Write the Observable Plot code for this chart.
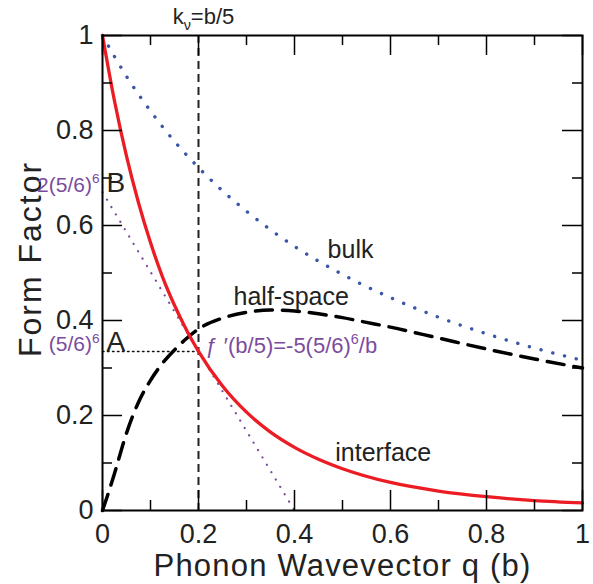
<!DOCTYPE html>
<html><head><meta charset="utf-8">
<script src="https://cdn.jsdelivr.net/npm/d3@7"></script>
<script src="https://cdn.jsdelivr.net/npm/@observablehq/plot@0.6"></script>
<style>
body{margin:0;background:#fff}
svg{font-family:"Liberation Sans",Arial,Helvetica,sans-serif}
</style>
</head><body><div id="chart"></div>
<script>
// ---- data ----
const interfaceQ = [0, 0.025, 0.05, 0.075, 0.1, 0.125, 0.15, 0.175, 0.2, 0.25, 0.3, 0.35, 0.4, 0.45, 0.5, 0.6, 0.7, 0.8, 0.9, 1.0];
const interfaceF = [1, 0.862, 0.746, 0.648, 0.564, 0.492, 0.432, 0.380, 0.335, 0.262, 0.207, 0.165, 0.133, 0.108, 0.088, 0.059, 0.041, 0.029, 0.021, 0.016];

const bulkQ = [0, 0.05, 0.1, 0.15, 0.2, 0.25, 0.3, 0.35, 0.4, 0.5, 0.6, 0.7, 0.8, 0.9, 1.0];
const bulkF = [1, 0.914, 0.841, 0.777, 0.722, 0.673, 0.630, 0.591, 0.556, 0.497, 0.448, 0.407, 0.372, 0.342, 0.316];

const halfQ = [0, 0.01, 0.025, 0.05, 0.075, 0.1, 0.125, 0.15, 0.175, 0.2, 0.25, 0.3, 0.35, 0.4, 0.45, 0.5, 0.55, 0.6, 0.7, 0.8, 0.9, 1.0];
const halfF = [0, 0.03, 0.078, 0.163, 0.228, 0.274, 0.310, 0.338, 0.362, 0.382, 0.405, 0.417, 0.422, 0.420, 0.414, 0.406, 0.396, 0.386, 0.363, 0.340, 0.319, 0.300];

const tangentQ = [0, 0.4];
const tangentF = [0.670, 0];
const refQ = [0, 0.2];
const refF = [0.335, 0.335];
const kNu = [0.2];

const majorTicks = [0, 0.2, 0.4, 0.6, 0.8, 1];
const minorTicks = [0.1, 0.3, 0.5, 0.7, 0.9];
const tickLabels = ["0", "0.2", "0.4", "0.6", "0.8", "1"];

const xTitle = "Phonon Wavevector q (b)";
const yTitle = "Form Factor";
const curveLabels = [
  {x: 0.469, y: 0.531, text: "bulk"},
  {x: 0.273, y: 0.432, text: "half-space"},
  {x: 0.485, y: 0.105, text: "interface"}
];
const pointLabels = [
  {x: 0, y: 0.670, text: "B"},
  {x: 0, y: 0.335, text: "A"}
];
const purpleLeft = [
  {x: 0, y: 0.670, text: "2(5/6)^{6}"},
  {x: 0, y: 0.335, text: "(5/6)^{6}"}
];
const purpleRight = [{x: 0.2, y: 0.335, text: "ƒ ′(b/5)=-5(5/6)^{6}/b"}];
const topLabel = [{x: 0.2, text: "k_{ν}=b/5"}];

// ---- tables ----
const zip = (Q, F) => Q.map((q, i) => ({q, f: F[i]}));
const interfaceData = zip(interfaceQ, interfaceF);
const bulkData = zip(bulkQ, bulkF);
const halfData = zip(halfQ, halfF);
const tangentData = zip(tangentQ, tangentF);
const refData = zip(refQ, refF);

const PURPLE = "#7b4c9e";
const RED = "#ec1c24";
const BLUE = "#3a56a8";
const W = 480, H = 475;

const chart = Plot.plot({
  width: 593, height: 584,
  marginTop: 35, marginRight: 11, marginBottom: 74, marginLeft: 102,
  x: {domain: [0, 1], axis: null},
  y: {domain: [0, 1], axis: null},
  style: {background: "white", overflow: "visible", fontFamily: '"Liberation Sans", Arial, Helvetica, sans-serif'},
  marks: [
    Plot.ruleX(kNu, {x: d => d, stroke: "#222", strokeWidth: 2, strokeDasharray: "8 5"}),
    Plot.line(refData, {x: "q", y: "f", stroke: "#111", strokeWidth: 1.5, strokeDasharray: "1.5 3.5"}),
    Plot.line(tangentData, {x: "q", y: "f", stroke: PURPLE, strokeWidth: 2.2, strokeLinecap: "round", strokeDasharray: "0.1 8.5"}),
    Plot.line(bulkData, {x: "q", y: "f", curve: "monotone-x", stroke: BLUE, strokeWidth: 3.4, strokeLinecap: "round", strokeDasharray: "0.1 12"}),
    Plot.line(halfData, {x: "q", y: "f", curve: "monotone-x", stroke: "#000", strokeWidth: 3.5, strokeDasharray: "17 10"}),
    Plot.line(interfaceData, {x: "q", y: "f", curve: "monotone-x", stroke: RED, strokeWidth: 3.3}),
    Plot.frame({stroke: "#000", strokeWidth: 2}),
    // inward ticks on all four sides
    Plot.tickX(majorTicks, {x: d => d, insetTop: H - 20, stroke: "#000", strokeWidth: 1.5}),
    Plot.tickX(majorTicks, {x: d => d, insetBottom: H - 20, stroke: "#000", strokeWidth: 1.5}),
    Plot.tickX(minorTicks, {x: d => d, insetTop: H - 10, stroke: "#000", strokeWidth: 1.5}),
    Plot.tickX(minorTicks, {x: d => d, insetBottom: H - 10, stroke: "#000", strokeWidth: 1.5}),
    Plot.tickY(majorTicks, {y: d => d, insetRight: W - 20, stroke: "#000", strokeWidth: 1.5}),
    Plot.tickY(majorTicks, {y: d => d, insetLeft: W - 20, stroke: "#000", strokeWidth: 1.5}),
    Plot.tickY(minorTicks, {y: d => d, insetRight: W - 10, stroke: "#000", strokeWidth: 1.5}),
    Plot.tickY(minorTicks, {y: d => d, insetLeft: W - 10, stroke: "#000", strokeWidth: 1.5}),
    // tick labels
    Plot.text(majorTicks, {x: d => d, text: (d, i) => tickLabels[i], frameAnchor: "bottom", textAnchor: "middle", lineAnchor: "bottom", dy: 32, fontSize: 27, fill: "#222"}),
    Plot.text(majorTicks, {y: d => d, text: (d, i) => tickLabels[i], frameAnchor: "left", textAnchor: "end", lineAnchor: "middle", dx: -9, fontSize: 27, fill: "#222"}),
    // axis titles
    Plot.text([xTitle], {text: d => d, frameAnchor: "bottom", textAnchor: "middle", lineAnchor: "bottom", dy: 65, fontSize: 31, fill: "#222"}),
    Plot.text([yTitle], {text: d => d, frameAnchor: "left", textAnchor: "middle", rotate: -90, lineAnchor: "bottom", dx: -62, dy: -14, fontSize: 32, fill: "#222"}),
    // annotations
    Plot.text(topLabel, {x: "x", text: "text", frameAnchor: "top", textAnchor: "middle", lineAnchor: "bottom", dy: -12, dx: 5, fontSize: 22, fill: "#222"}),
    Plot.text(curveLabels, {x: "x", y: "y", text: "text", textAnchor: "start", lineAnchor: "bottom", fontSize: 25, fill: "#222"}),
    Plot.text(pointLabels, {x: "x", y: "y", text: "text", textAnchor: "start", lineAnchor: "bottom", dx: 4, fontSize: 28, fill: "#222"}),
    Plot.text(purpleLeft, {x: "x", y: "y", text: "text", textAnchor: "end", lineAnchor: "bottom", dx: -3, fontSize: 21, fill: PURPLE}),
    Plot.text(purpleRight, {x: "x", y: "y", text: "text", textAnchor: "start", lineAnchor: "bottom", dx: 7, dy: 2, fontSize: 22, fill: PURPLE})
  ]
});
document.getElementById("chart").appendChild(chart);

// wider letter spacing on the axis titles (the original font is wide)
chart.querySelectorAll("text").forEach(t => {
  if (t.textContent === xTitle) t.style.letterSpacing = "1.2px";
  if (t.textContent === yTitle) t.style.letterSpacing = "2px";
});

// superscript / subscript markup ^{..} and _{..} -> tspans
const NS = "http://www.w3.org/2000/svg";
chart.querySelectorAll("text").forEach(t => {
  const s = t.textContent;
  if (!/[\^_]\{/.test(s)) return;
  const fs = parseFloat(getComputedStyle(t).fontSize) || 22;
  t.textContent = "";
  const re = /([\^_])\{([^}]*)\}/g;
  let last = 0, m, pendingDy = 0;
  const add = (txt, opts = {}) => {
    const ts = document.createElementNS(NS, "tspan");
    ts.textContent = txt;
    if (opts.dy || pendingDy) ts.setAttribute("dy", (opts.dy || 0) + pendingDy);
    pendingDy = 0;
    if (opts.fontSize) ts.setAttribute("font-size", opts.fontSize);
    t.appendChild(ts);
  };
  while ((m = re.exec(s))) {
    if (m.index > last) add(s.slice(last, m.index));
    const shift = m[1] === "^" ? -0.42 * fs : 0.28 * fs;
    add(m[2], {dy: shift, fontSize: 0.65 * fs});
    pendingDy = -shift;
    last = re.lastIndex;
  }
  if (last < s.length) add(s.slice(last));
});
</script>
</body></html>
